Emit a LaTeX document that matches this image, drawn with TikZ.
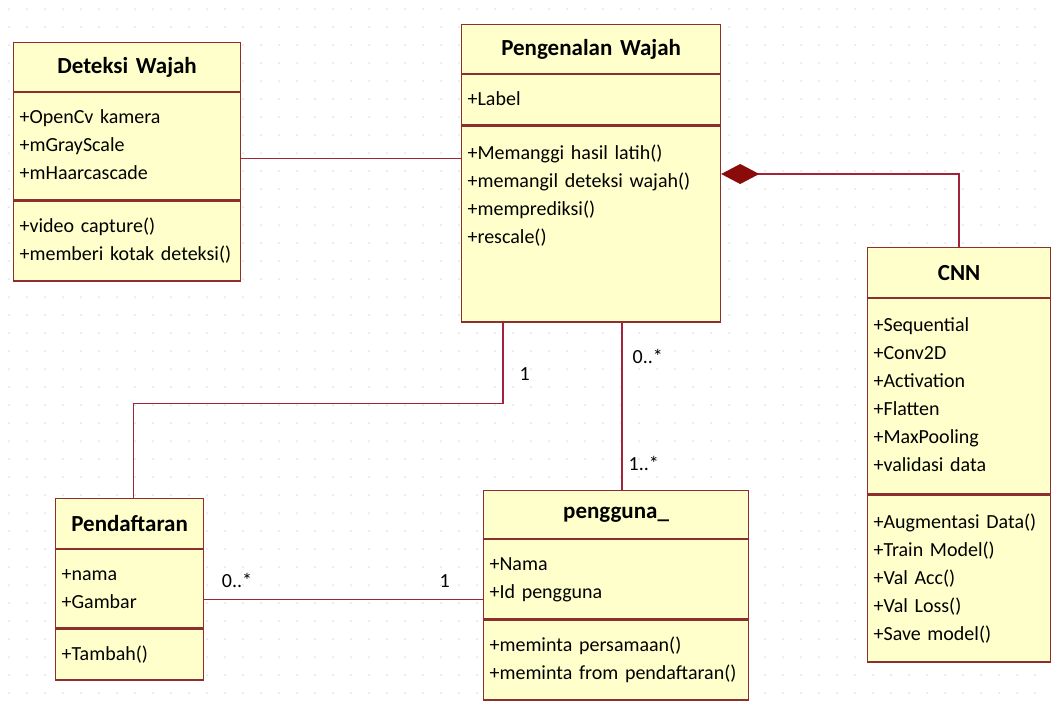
\documentclass[tikz,border=0pt]{standalone}
\usepackage{fontspec}
\setmainfont{Carlito}
\usetikzlibrary{arrows.meta,positioning}
\definecolor{umlfill}{HTML}{FFFFCC}
\definecolor{umlline}{HTML}{8E2F2F}
\definecolor{assocred}{HTML}{A3243A}
\definecolor{diamondred}{HTML}{8B0A0A}
\definecolor{dotgray}{HTML}{E2E2E2}

\begin{document}
\begin{tikzpicture}[
  x=1pt, y=-1pt,
  every node/.style={font=\fontsize{20}{28}\selectfont},
  head/.style={draw=umlline, fill=umlfill, line width=1.2pt, anchor=north west, inner xsep=6pt, inner ysep=0pt, align=center, font=\fontsize{23}{28}\selectfont\bfseries},
  part/.style={draw=umlline, fill=umlfill, line width=1.2pt, anchor=north west, inner xsep=6pt, inner ysep=11pt, align=left, execute at begin node=\strut, execute at end node=\strut},
  assoc/.style={draw=assocred, line width=1.3pt},
  mult/.style={font=\fontsize{20}{22}\selectfont, inner sep=2pt}
]
\useasboundingbox[fill=white] (0,0) rectangle (1057,710);
% dotted grid of the editor
\foreach \x in {9,27,...,1050}
  \foreach \y in {9,27,...,705}
    \fill[dotgray] (\x,\y) circle (1pt);

% Deteksi Wajah
\node[head, text width=215pt, minimum height=49pt] (dwH) at (13,42) {Deteksi Wajah};
\node[part, text width=215pt, minimum height=107pt] (dwA) at (dwH.south west) {+OpenCv kamera\\+mGrayScale\\+mHaarcascade};
\node[part, text width=215pt, minimum height=80pt] (dwO) at (dwA.south west) {+video capture()\\+memberi kotak deteksi()};

% Pengenalan Wajah
\node[head, text width=247pt, minimum height=49pt] (pwH) at (461,24) {Pengenalan Wajah};
\node[part, text width=247pt, minimum height=49pt] (pwA) at (pwH.south west) {+Label};
\node[part, text width=247pt, minimum height=196pt] (pwO) at (pwA.south west) {+Memanggi hasil latih()\\+memangil deteksi wajah()\\+memprediksi()\\+rescale()\\\strut\\};

% CNN
\node[head, text width=171pt, minimum height=50pt] (cnnH) at (867,247) {CNN};
\node[part, text width=171pt, minimum height=195pt] (cnnA) at (cnnH.south west) {+Sequential\\+Conv2D\\+Activation\\+Flatten\\+MaxPooling\\+validasi data};
\node[part, text width=171pt, minimum height=167pt] (cnnO) at (cnnA.south west) {+Augmentasi Data()\\+Train Model()\\+Val Acc()\\+Val Loss()\\+Save model()};

% Pendaftaran
\node[head, text width=136pt, minimum height=50pt] (pdH) at (55,498) {Pendaftaran};
\node[part, text width=136pt, minimum height=78pt] (pdA) at (pdH.south west) {+nama\\+Gambar};
\node[part, text width=136pt, minimum height=51pt] (pdO) at (pdA.south west) {+Tambah()};

% pengguna_
\node[head, text width=253pt, minimum height=48pt] (pgH) at (483,490) {pengguna\_};
\node[part, text width=253pt, minimum height=79pt] (pgA) at (pgH.south west) {+Nama\\+Id pengguna};
\node[part, text width=253pt, minimum height=80pt] (pgO) at (pgA.south west) {+meminta persamaan()\\+meminta from pendaftaran()};

% relations
\draw[assoc] ([yshift=-12pt]dwA.east) -- ([yshift=-12pt]dwA.east -| pwO.west);
\draw[assoc, {Diamond[length=38pt, width=20pt, color=diamondred, fill=diamondred]}-] ([yshift=50pt]pwO.east) -| (cnnH.north);
\draw[assoc] ([xshift=42pt]pwO.south west) -- ++(0,81) node[mult, pos=0.64, anchor=west, xshift=14pt] {1} -| ([xshift=4pt]pdH.north);
\coordinate (pwB) at ([xshift=161pt]pwO.south west);
\draw[assoc] (pwB) -- (pwB |- pgH.north)
  node[mult, pos=0.2, anchor=west, xshift=8pt] {0..*}
  node[mult, pos=0.84, anchor=west, xshift=4pt] {1..*};
\draw[assoc] ([yshift=-11pt]pdA.east) -- ([yshift=-11pt]pdA.east -| pgA.west)
  node[mult, pos=0.054, anchor=south west, yshift=10pt] {0..*}
  node[mult, pos=0.89, anchor=south east, yshift=10pt] {1};
\end{tikzpicture}
\end{document}
